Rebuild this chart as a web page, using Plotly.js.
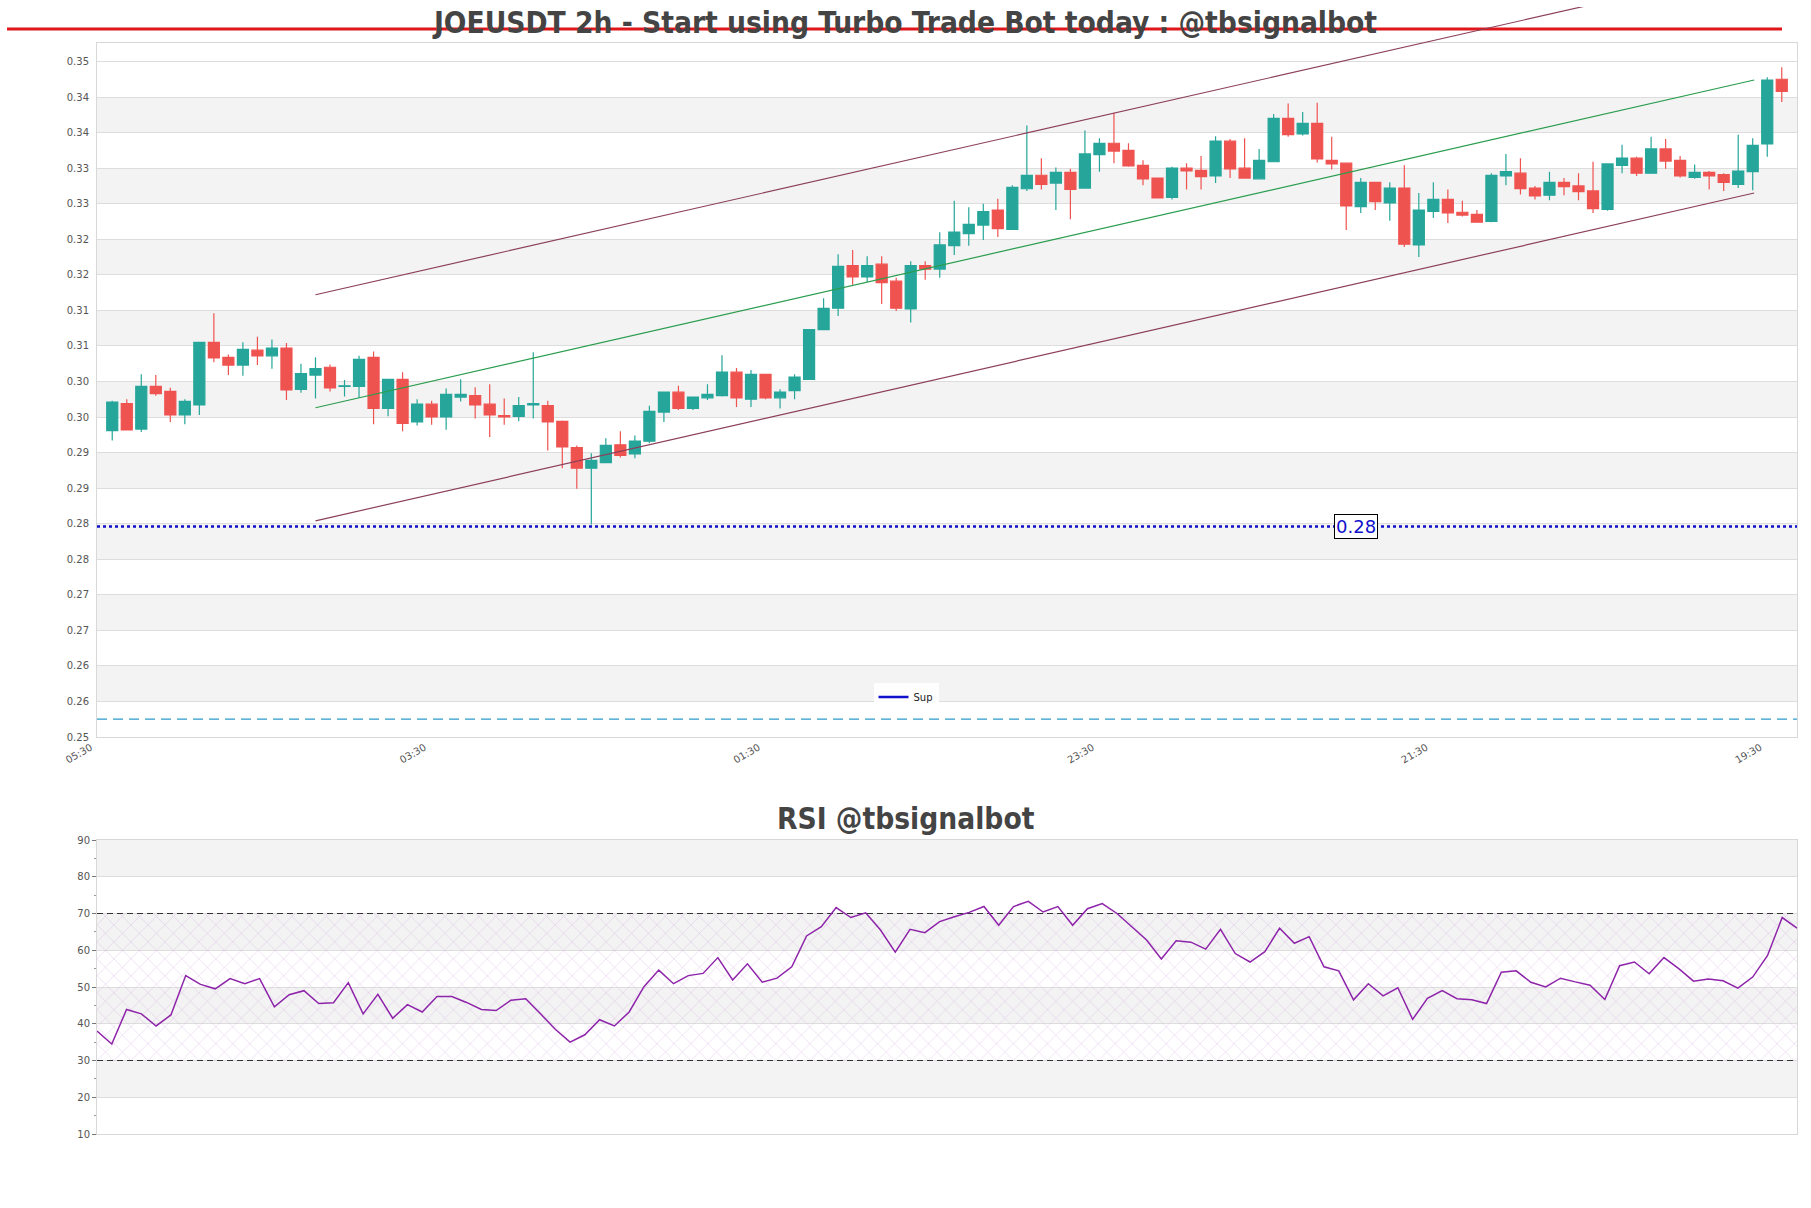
<!DOCTYPE html>
<html>
<head>
<meta charset="utf-8">
<script src="https://cdn.plot.ly/plotly-3.0.1.min.js"></script>
<style>html,body{margin:0;padding:0;background:#fff}#chart{width:1811px;height:1208px}</style>
</head>
<body>
<div id="chart"></div>
<script>
// ---------------- data ----------------
const opens = [0.2931,0.2969,0.2933,0.2993,0.2986,0.2953,0.2967,0.3055,0.3034,0.3023,
0.3044,0.3036,0.3047,0.2989,0.3009,0.3020,0.2993,0.2993,0.3034,0.2962,
0.3003,0.2943,0.2968,0.2950,0.2978,0.2980,0.2968,0.2952,0.2951,0.2967,
0.2966,0.2944,0.2907,0.2878,0.2886,0.2911,0.2898,0.2916,0.2957,0.2985,
0.2962,0.2977,0.2980,0.3013,0.2975,0.3010,0.2977,0.2987,0.3003,0.3073,
0.3103,0.3163,0.3147,0.3165,0.3141,0.3102,0.3163,0.3158,0.3191,0.3208,
0.3220,0.3241,0.3214,0.3271,0.3290,0.3279,0.3294,0.3272,0.3319,0.3335,
0.3325,0.3304,0.3286,0.3259,0.3300,0.3297,0.3289,0.3338,0.3300,0.3285,
0.3309,0.3370,0.3348,0.3363,0.3311,0.3307,0.3246,0.3280,0.3251,0.3272,
0.3192,0.3239,0.3256,0.3238,0.3235,0.3225,0.3289,0.3293,0.3272,0.3262,
0.3280,0.3275,0.3268,0.3242,0.3304,0.3314,0.3293,0.3327,0.3311,0.3287,
0.3294,0.3291,0.3277,0.3295,0.3334,0.3425];
const highs = [0.2973,0.2975,0.3010,0.3009,0.2991,0.2975,0.3056,0.3096,0.3038,0.3055,
0.3063,0.3059,0.3054,0.3025,0.3034,0.3024,0.3002,0.3036,0.3042,0.3003,
0.3013,0.2975,0.2973,0.2990,0.3003,0.2992,0.2996,0.2976,0.2978,0.3041,
0.2973,0.2945,0.2910,0.2899,0.2920,0.2930,0.2924,0.2966,0.2985,0.2994,
0.2978,0.2996,0.3037,0.3019,0.3016,0.3011,0.2989,0.3010,0.3073,0.3117,
0.3179,0.3185,0.3176,0.3176,0.3146,0.3169,0.3169,0.3210,0.3254,0.3245,
0.3250,0.3257,0.3276,0.3360,0.3314,0.3301,0.3299,0.3353,0.3342,0.3378,
0.3335,0.3311,0.3286,0.3302,0.3307,0.3317,0.3345,0.3341,0.3342,0.3327,
0.3376,0.3391,0.3379,0.3392,0.3344,0.3307,0.3286,0.3280,0.3280,0.3304,
0.3265,0.3280,0.3270,0.3254,0.3241,0.3293,0.3320,0.3314,0.3275,0.3295,
0.3286,0.3293,0.3309,0.3307,0.3333,0.3316,0.3344,0.3341,0.3317,0.3305,
0.3296,0.3293,0.3347,0.3342,0.3428,0.3442];
const lows = [0.2917,0.2931,0.2929,0.2980,0.2943,0.2940,0.2953,0.3027,0.3009,0.3008,
0.3023,0.3018,0.2974,0.2984,0.2976,0.2986,0.2979,0.2977,0.2940,0.2951,
0.2930,0.2938,0.2939,0.2932,0.2972,0.2948,0.2922,0.2939,0.2944,0.2948,
0.2903,0.2878,0.2849,0.2799,0.2885,0.2893,0.2892,0.2913,0.2943,0.2960,
0.2960,0.2974,0.2979,0.2964,0.2964,0.2975,0.2962,0.2975,0.3002,0.3073,
0.3092,0.3136,0.3140,0.3109,0.3099,0.3083,0.3143,0.3146,0.3178,0.3191,
0.3199,0.3203,0.3213,0.3268,0.3270,0.3241,0.3228,0.3271,0.3295,0.3307,
0.3302,0.3276,0.3258,0.3256,0.3270,0.3270,0.3279,0.3286,0.3286,0.3284,
0.3309,0.3344,0.3346,0.3308,0.3298,0.3213,0.3237,0.3241,0.3226,0.3189,
0.3175,0.3230,0.3223,0.3232,0.3224,0.3224,0.3276,0.3263,0.3256,0.3255,
0.3262,0.3255,0.3237,0.3240,0.3293,0.3289,0.3292,0.3299,0.3287,0.3285,
0.3270,0.3268,0.3272,0.3269,0.3316,0.3393];
const closes = [0.2971,0.2932,0.2993,0.2983,0.2953,0.2972,0.3055,0.3033,0.3023,0.3045,
0.3036,0.3047,0.2988,0.3011,0.3018,0.2991,0.2994,0.3031,0.2962,0.3003,
0.2941,0.2968,0.2950,0.2982,0.2982,0.2967,0.2953,0.2950,0.2966,0.2969,
0.2943,0.2908,0.2878,0.2889,0.2910,0.2896,0.2916,0.2958,0.2985,0.2962,
0.2978,0.2982,0.3013,0.2977,0.3010,0.2977,0.2985,0.3006,0.3073,0.3103,
0.3162,0.3147,0.3163,0.3139,0.3103,0.3163,0.3158,0.3192,0.3210,0.3221,
0.3239,0.3215,0.3273,0.3290,0.3277,0.3294,0.3270,0.3320,0.3335,0.3324,
0.3303,0.3285,0.3258,0.3300,0.3296,0.3288,0.3338,0.3299,0.3286,0.3311,
0.3370,0.3347,0.3363,0.3313,0.3306,0.3247,0.3280,0.3253,0.3272,0.3193,
0.3241,0.3256,0.3237,0.3234,0.3224,0.3290,0.3295,0.3271,0.3261,0.3280,
0.3274,0.3267,0.3243,0.3306,0.3314,0.3293,0.3327,0.3310,0.3289,0.3294,
0.3289,0.3280,0.3296,0.3332,0.3424,0.3408];

const rsiValues = [38.0,34.5,43.9,42.7,39.4,42.4,53.1,50.7,49.5,52.3,
50.9,52.3,44.6,47.9,49.0,45.5,45.7,51.2,42.7,48.0,
41.5,45.2,43.2,47.4,47.4,45.8,43.9,43.6,46.4,46.8,
42.7,38.5,35.0,37.0,41.1,39.4,43.2,50.1,54.6,50.9,
53.1,53.7,58.0,51.9,56.3,51.3,52.4,55.5,63.9,66.4,
71.6,68.9,70.2,65.5,59.5,65.7,64.8,67.8,69.1,70.3,
71.9,66.8,71.9,73.3,70.4,71.9,66.8,71.3,72.7,70.0,
66.4,62.8,57.6,62.6,62.2,60.3,65.7,59.1,56.8,59.6,
66.0,61.9,63.7,55.5,54.4,46.5,50.9,47.6,49.8,41.2,
46.9,49.0,46.8,46.5,45.5,54.0,54.4,51.3,50.0,52.4,
51.4,50.5,46.6,55.8,56.8,53.6,58.0,55.0,51.6,52.2,
51.7,49.7,52.7,58.5,68.9,66.0];

const priceTickVals = [0.25,0.255,0.26,0.265,0.27,0.275,0.28,0.285,0.29,0.295,
0.30,0.305,0.31,0.315,0.32,0.325,0.33,0.335,0.34,0.345];
const priceTickText = ['0.25','0.26','0.26','0.27','0.27','0.28','0.28','0.29','0.29','0.30',
'0.30','0.31','0.31','0.32','0.32','0.33','0.33','0.34','0.34','0.35'];
const timeTickVals = [-1,22,45,68,91,114];
const timeTickText = ['05:30','03:30','01:30','23:30','21:30','19:30'];
const rsiTickVals = [10,20,30,40,50,60,70,80,90];
const rsiLevels = [30,70];

const supportLevel = 0.2796;
const lowerDashLevel = 0.2525;
const channelX = [14, 113.1];
const channelUpper = [0.3122, 0.3582];
const channelMid = [0.2963, 0.3424];
const channelLower = [0.2804, 0.3265];

// ---------------- layout geometry ----------------
const W = 1811, H = 1208;
const M = {l:97, r:14, t:7, b:74};
const PH = H - M.t - M.b;
const PW = W - M.l - M.r;
const mainDom = [(H - M.b - 737) / PH, (H - M.b - 43) / PH];
const rsiDom = [0, (H - M.b - 840) / PH];
const xRange = [-1.05, 116.05];
const yRange = [0.25, 0.3476];
const rsiXRange = [0, rsiValues.length - 1];
const rsiYRange = [10, 90];
const overlayTop = yRange[0] + (yRange[1] - yRange[0]) * (1 - mainDom[0]) / (mainDom[1] - mainDom[0]);

const idx = opens.map((_, i) => i);
const rsiIdx = rsiValues.map((_, i) => i);

const baseFont = 'DejaVu Sans, sans-serif';
const titleFont = {family: 'DejaVu Sans Condensed, DejaVu Sans, sans-serif', size: 29.6, color: '#444', weight: 'bold', stretch: 'condensed'};
const supColor = '#1111cc';

const traces = [];

// channel lines (below candles)
traces.push({type:'scatter', mode:'lines', x: channelX, y: channelLower, xaxis:'x', yaxis:'y',
  line:{color:'#8c3f5a', width:1.2}, showlegend:false, hoverinfo:'skip'});
traces.push({type:'scatter', mode:'lines', x: channelX, y: channelMid, xaxis:'x', yaxis:'y',
  line:{color:'#2a9d4e', width:1.2}, showlegend:false, hoverinfo:'skip'});

// candles
traces.push({type:'candlestick', x: idx, open: opens, high: highs, low: lows, close: closes,
  xaxis:'x', yaxis:'y', whiskerwidth:0, showlegend:false, hoverinfo:'skip',
  increasing:{line:{color:'#26a69a', width:1.2}, fillcolor:'#26a69a'},
  decreasing:{line:{color:'#ef5350', width:1.2}, fillcolor:'#ef5350'}});

// support and lower dashed level
traces.push({type:'scatter', mode:'lines', x: xRange, y:[lowerDashLevel, lowerDashLevel], xaxis:'x', yaxis:'y',
  line:{color:'#2b9ccc', width:1.3, dash:'10px,6px'}, showlegend:false, hoverinfo:'skip'});
traces.push({type:'scatter', mode:'lines', name:'Sup', x: xRange, y:[supportLevel, supportLevel], xaxis:'x', yaxis:'y',
  line:{color:supColor, width:2.5, dash:'dot'}, showlegend:false, hoverinfo:'skip'});
// legend entry for the support line (solid swatch as in the original legend)
traces.push({type:'scatter', mode:'lines', name:'Sup', x:[null], y:[null], xaxis:'x', yaxis:'y',
  line:{color:supColor, width:2.5}, showlegend:true, hoverinfo:'skip'});

// upper channel line on overlay (extends above plot)
traces.push({type:'scatter', mode:'lines', x: channelX, y: channelUpper, xaxis:'x3', yaxis:'y3',
  line:{color:'#8c3f5a', width:1.2}, showlegend:false, hoverinfo:'skip'});

// RSI hatch region
traces.push({type:'scatter', mode:'lines', x:[rsiXRange[0], rsiXRange[1], rsiXRange[1], rsiXRange[0], rsiXRange[0]],
  y:[rsiLevels[0], rsiLevels[0], rsiLevels[1], rsiLevels[1], rsiLevels[0]], xaxis:'x2', yaxis:'y2',
  fill:'toself', fillcolor:'rgba(0,0,0,0)', line:{width:0, color:'rgba(0,0,0,0)'},
  fillpattern:{shape:'x', fgcolor:'rgba(205,160,220,0.6)', bgcolor:'rgba(0,0,0,0)', size:12, solidity:0.08},
  showlegend:false, hoverinfo:'skip'});
// RSI level lines
rsiLevels.forEach(v => traces.push({type:'scatter', mode:'lines', x: rsiXRange, y:[v, v], xaxis:'x2', yaxis:'y2',
  line:{color:'#333', width:1.2, dash:'6px,4px'}, showlegend:false, hoverinfo:'skip'}));
// RSI line
traces.push({type:'scatter', mode:'lines', x: rsiIdx, y: rsiValues, xaxis:'x2', yaxis:'y2',
  line:{color:'#8e24aa', width:1.5}, showlegend:false, hoverinfo:'skip'});

// bands
const shapes = [];
for (let i = 1; i + 1 < priceTickVals.length; i += 2) {
  shapes.push({type:'rect', xref:'x domain', yref:'y', x0:0, x1:1, y0:priceTickVals[i], y1:priceTickVals[i+1],
    fillcolor:'#f3f3f3', line:{width:0}, layer:'below'});
}
for (let i = 1; i + 1 < rsiTickVals.length; i += 2) {
  shapes.push({type:'rect', xref:'x2 domain', yref:'y2', x0:0, x1:1, y0:rsiTickVals[i], y1:rsiTickVals[i+1],
    fillcolor:'#f3f3f3', line:{width:0}, layer:'below'});
}
// red title underline
shapes.push({type:'line', xref:'paper', yref:'paper', x0:(7 - M.l) / PW, x1:(1782 - M.l) / PW,
  y0:(H - M.b - 29) / PH, y1:(H - M.b - 29) / PH, line:{color:'#e0161b', width:3}, layer:'below'});

const axisLine = '#d8d8d8';
const layout = {
  width: W, height: H, margin: M,
  paper_bgcolor:'#ffffff', plot_bgcolor:'rgba(0,0,0,0)',
  font:{family: baseFont, size:10, color:'#555'},
  title:{text:'JOEUSDT 2h - Start using Turbo Trade Bot today : @tbsignalbot', font: titleFont,
    x:0.5, xref:'container', y: 1 - 23 / H, yref:'container', yanchor:'middle', xanchor:'center'},
  showlegend:true,
  legend:{x:(906 - M.l) / PW, y:(H - M.b - 697) / PH, xanchor:'center', yanchor:'middle',
    bgcolor:'rgba(255,255,255,0.9)', borderwidth:0, font:{family: baseFont, size:10, color:'#222'}},
  boxgap:0.24, boxgroupgap:0,
  hovermode:false,
  xaxis:{domain:[0,1], anchor:'y', range:xRange, tickmode:'array', tickvals:timeTickVals, ticktext:timeTickText,
    tickangle:-30, ticklabelshift:-7, tickfont:{family: baseFont, size:10, color:'#555'}, ticks:'', showgrid:false, zeroline:false,
    showline:true, mirror:true, linecolor:axisLine, linewidth:1, rangeslider:{visible:false}, fixedrange:true},
  yaxis:{domain:mainDom, anchor:'x', range:yRange, tickmode:'array', tickvals:priceTickVals, ticktext:priceTickText,
    tickfont:{family: baseFont, size:10, color:'#555'}, ticks:'outside', ticklen:5, tickcolor:'rgba(0,0,0,0)',
    showgrid:true, gridcolor:'#dddddd', gridwidth:1, zeroline:false,
    showline:true, mirror:true, linecolor:axisLine, linewidth:1, fixedrange:true},
  xaxis2:{domain:[0,1], anchor:'y2', range:rsiXRange, showticklabels:false, ticks:'', showgrid:false, zeroline:false,
    showline:true, mirror:true, linecolor:axisLine, linewidth:1, fixedrange:true},
  yaxis2:{domain:rsiDom, anchor:'x2', range:rsiYRange, tickmode:'array', tickvals:rsiTickVals,
    tickfont:{family: baseFont, size:10, color:'#555'}, ticks:'outside', ticklen:4, tickcolor:'#777',
    minor:{ticks:'outside', ticklen:2, tickcolor:'#999', dtick:5, tick0:5, showgrid:false},
    showgrid:true, gridcolor:'#dddddd', zeroline:false,
    showline:true, mirror:true, linecolor:axisLine, linewidth:1, fixedrange:true},
  xaxis3:{domain:[0,1], anchor:'y3', range:xRange, visible:false, fixedrange:true},
  yaxis3:{domain:[mainDom[0], 1], anchor:'x3', range:[yRange[0], overlayTop], visible:false, fixedrange:true},
  shapes: shapes,
  annotations:[
    {text:'RSI @tbsignalbot', xref:'paper', yref:'paper', x:(905.5 - M.l) / PW, y:(H - M.b - 819) / PH,
      xanchor:'center', yanchor:'middle', showarrow:false, font: titleFont},
    {text: supportLevel.toFixed(2), xref:'x', yref:'y', x:85.65, y:supportLevel, xanchor:'center', yanchor:'middle',
      showarrow:false, font:{family: baseFont, size:18, color:supColor}, bgcolor:'#ffffff', bordercolor:'#000',
      borderwidth:1, borderpad:1}
  ]
};

Plotly.newPlot('chart', traces, layout, {staticPlot:true, displayModeBar:false});
</script>
</body>
</html>
